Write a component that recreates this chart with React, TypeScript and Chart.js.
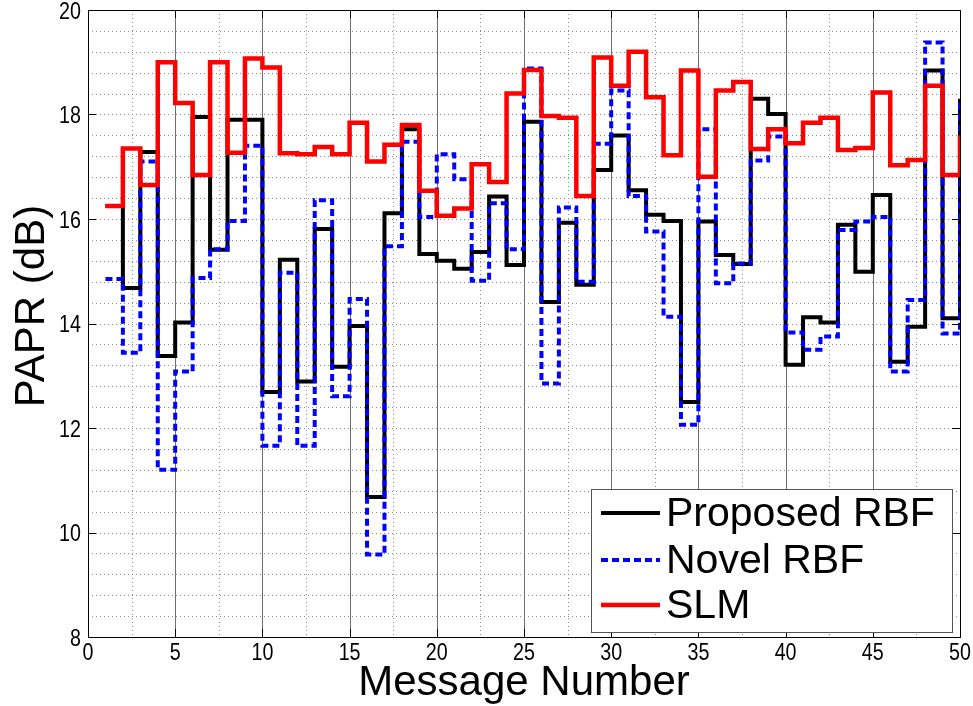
import React, { useEffect, useRef } from "react";
import { Chart, registerables } from "chart.js";

Chart.register(...registerables);

const messageNumbers = [
  1, 2, 3, 4, 5, 6, 7, 8, 9, 10, 11, 12, 13, 14, 15, 16, 17, 18, 19, 20, 21, 22, 23, 24, 25,
  26, 27, 28, 29, 30, 31, 32, 33, 34, 35, 36, 37, 38, 39, 40, 41, 42, 43, 44, 45, 46, 47, 48, 49, 50,
];

const proposedRBF = [
  16.25, 14.68, 17.28, 13.38, 14.02, 17.95, 15.41, 17.9, 17.9, 12.69,
  15.22, 12.89, 15.81, 13.17, 13.95, 10.68, 16.11, 17.72, 15.33, 15.2,
  15.05, 15.37, 16.43, 15.12, 17.86, 14.41, 15.93, 14.74, 16.94, 17.6,
  16.55, 16.08, 15.96, 12.5, 15.95, 15.31, 15.14, 18.3, 18.01, 13.21,
  14.12, 14.02, 15.89, 14.99, 16.46, 13.27, 13.94, 18.84, 14.1, 18.3,
];

const novelRBF = [
  14.85, 13.44, 17.1, 11.2, 13.08, 14.87, 15.42, 15.96, 17.4, 11.66,
  14.97, 11.66, 16.36, 12.61, 14.47, 9.58, 15.48, 17.48, 16.04, 17.24,
  16.76, 14.82, 16.3, 15.42, 18.88, 12.85, 16.22, 14.8, 17.44, 18.46,
  16.44, 15.76, 14.13, 12.06, 17.72, 14.77, 15.15, 17.12, 17.58, 13.83,
  13.5, 13.75, 15.79, 15.95, 16.04, 13.08, 14.45, 19.38, 13.81, 18.3,
];

const slm = [
  16.25, 17.35, 16.65, 19.0, 18.22, 16.84, 19.0, 17.27, 19.07, 18.9,
  17.26, 17.24, 17.38, 17.24, 17.84, 17.1, 17.42, 17.8, 16.54, 16.06,
  16.2, 17.05, 16.71, 18.4, 18.85, 17.97, 17.94, 16.44, 19.09, 18.55,
  19.2, 18.33, 17.22, 18.84, 16.81, 18.46, 18.62, 17.34, 17.72, 17.45,
  17.84, 17.94, 17.32, 17.36, 18.42, 17.03, 17.13, 18.55, 16.84, 17.6,
];

const xTicks = [0, 5, 10, 15, 20, 25, 30, 35, 40, 45, 50];
const yTicks = [8, 10, 12, 14, 16, 18, 20];
const xTitle = "Message Number";
const yTitle = "PAPR (dB)";

const toPoints = (vals: number[]) => messageNumbers.map((x, i) => ({ x, y: vals[i] }));

const FONT = "'Liberation Sans', Arial, sans-serif";

const gridPlugin = {
  id: "matlabGrid",
  beforeDatasetsDraw(chart: any) {
    const { ctx, chartArea } = chart;
    const xs = chart.scales.x;
    const ys = chart.scales.y;
    const { left, right, top, bottom } = chartArea;
    ctx.save();
    ctx.lineWidth = 1;
    ctx.strokeStyle = "#8a8a8a";
    ctx.setLineDash([1, 3]);
    for (let k = 1; k < 30; k++) {
      const py = Math.round(ys.getPixelForValue(8 + 0.4 * k)) + 0.5;
      ctx.beginPath();
      ctx.moveTo(left, py);
      ctx.lineTo(right, py);
      ctx.stroke();
    }
    for (let k = 0; k < 10; k++) {
      const px = Math.round(xs.getPixelForValue(2.5 + 5 * k)) + 0.5;
      ctx.beginPath();
      ctx.moveTo(px, top);
      ctx.lineTo(px, bottom);
      ctx.stroke();
    }
    ctx.setLineDash([]);
    ctx.strokeStyle = "#6e6e6e";
    for (let k = 1; k < 10; k++) {
      const px = Math.round(xs.getPixelForValue(5 * k)) + 0.5;
      ctx.beginPath();
      ctx.moveTo(px, top);
      ctx.lineTo(px, bottom);
      ctx.stroke();
    }
    ctx.restore();
  },
  afterDatasetsDraw(chart: any) {
    const { ctx, chartArea } = chart;
    const xs = chart.scales.x;
    const ys = chart.scales.y;
    const { left, right, top, bottom } = chartArea;
    ctx.save();
    ctx.strokeStyle = "#000";
    ctx.lineWidth = 1;
    ctx.setLineDash([]);
    const tl = 8;
    xTicks.forEach((v) => {
      const px = Math.round(xs.getPixelForValue(v)) + 0.5;
      ctx.beginPath();
      ctx.moveTo(px, bottom);
      ctx.lineTo(px, bottom - tl);
      ctx.moveTo(px, top);
      ctx.lineTo(px, top + tl);
      ctx.stroke();
    });
    yTicks.forEach((v) => {
      const py = Math.round(ys.getPixelForValue(v)) + 0.5;
      ctx.beginPath();
      ctx.moveTo(left, py);
      ctx.lineTo(left + tl, py);
      ctx.moveTo(right, py);
      ctx.lineTo(right - tl, py);
      ctx.stroke();
    });
    ctx.strokeRect(Math.round(left) + 0.5, Math.round(top) + 0.5, Math.round(right - left), Math.round(bottom - top));
    ctx.restore();
  },
};

const labelsPlugin = {
  id: "matlabLabels",
  afterDraw(chart: any) {
    const { ctx, chartArea } = chart;
    const xs = chart.scales.x;
    const ys = chart.scales.y;
    ctx.save();
    ctx.fillStyle = "#000";
    ctx.font = `24px ${FONT}`;
    const sx = 0.82;
    // x tick labels (condensed)
    ctx.textAlign = "center";
    ctx.textBaseline = "alphabetic";
    xTicks.forEach((v) => {
      const px = xs.getPixelForValue(v);
      ctx.save();
      ctx.translate(px, chartArea.bottom + 23);
      ctx.scale(sx, 1);
      ctx.fillText(String(v), 0, 0);
      ctx.restore();
    });
    // y tick labels
    ctx.textAlign = "right";
    yTicks.forEach((v) => {
      const py = ys.getPixelForValue(v);
      ctx.save();
      ctx.translate(chartArea.left - 7, py + 8.5);
      ctx.scale(sx, 1);
      ctx.fillText(String(v), 0, 0);
      ctx.restore();
    });
    // axis titles
    ctx.font = `42px ${FONT}`;
    ctx.textAlign = "center";
    ctx.textBaseline = "alphabetic";
    ctx.fillText(xTitle, (chartArea.left + chartArea.right) / 2 - 0, chartArea.bottom + 58);
    ctx.save();
    ctx.translate(44, 306);
    ctx.rotate(-Math.PI / 2);
    ctx.fillText(yTitle, 0, 0);
    ctx.restore();
    ctx.restore();
  },
};

const legendPlugin = {
  id: "insideLegend",
  afterDraw(chart: any) {
    const { ctx, chartArea } = chart;
    const w = 361;
    const h = 143;
    const x0 = chartArea.right - 8 - w;
    const y0 = chartArea.bottom - 5 - h;
    ctx.save();
    ctx.fillStyle = "#ffffff";
    ctx.fillRect(x0, y0, w, h);
    ctx.strokeStyle = "#555";
    ctx.lineWidth = 1;
    ctx.strokeRect(x0 + 0.5, y0 + 0.5, w, h);
    const rows = [24, 71, 116];
    chart.data.datasets.forEach((ds: any, i: number) => {
      const cy = y0 + rows[i];
      ctx.strokeStyle = ds.borderColor;
      ctx.lineWidth = ds.borderWidth;
      ctx.setLineDash(ds.borderDash || []);
      ctx.beginPath();
      ctx.moveTo(x0 + 10, cy);
      ctx.lineTo(x0 + 69, cy);
      ctx.stroke();
      ctx.setLineDash([]);
      ctx.fillStyle = "#000";
      ctx.font = `41px ${FONT}`;
      ctx.textBaseline = "middle";
      ctx.textAlign = "left";
      ctx.fillText(ds.label, x0 + 75, cy + 2);
    });
    ctx.restore();
  },
};

export default function App() {
  const canvasRef = useRef<HTMLCanvasElement | null>(null);

  useEffect(() => {
    document.body.style.margin = "0";
    const canvas = canvasRef.current;
    if (!canvas) return;
    const chart = new Chart(canvas, {
      type: "line",
      data: {
        datasets: [
          {
            label: "Proposed RBF",
            data: toPoints(proposedRBF),
            borderColor: "#000000",
            borderWidth: 4,
            stepped: "before",
            pointRadius: 0,
            fill: false,
            order: 2,
          },
          {
            label: "Novel RBF",
            data: toPoints(novelRBF),
            borderColor: "#0000ff",
            borderWidth: 4,
            borderDash: [7, 4],
            stepped: "before",
            pointRadius: 0,
            fill: false,
            order: 1,
          },
          {
            label: "SLM",
            data: toPoints(slm),
            borderColor: "#ff0000",
            borderWidth: 4.5,
            stepped: "before",
            pointRadius: 0,
            fill: false,
            order: 0,
          },
        ],
      },
      options: {
        animation: false,
        responsive: false,
        maintainAspectRatio: false,
        layout: { padding: { top: 10, right: 13, left: 0, bottom: 0 } },
        plugins: {
          legend: { display: false },
          tooltip: { enabled: false },
          title: { display: false },
        },
        scales: {
          x: {
            type: "linear",
            min: 0,
            max: 50,
            grid: { display: false },
            border: { display: false },
            ticks: { display: false },
            afterFit: (scale: any) => {
              scale.height = 69;
            },
          },
          y: {
            type: "linear",
            min: 8,
            max: 20,
            grid: { display: false },
            border: { display: false },
            ticks: { display: false },
            afterFit: (scale: any) => {
              scale.width = 88;
            },
          },
        },
      },
      plugins: [gridPlugin, labelsPlugin, legendPlugin],
    } as any);
    return () => chart.destroy();
  }, []);

  return (
    <div style={{ width: 973, height: 706, background: "#fff" }}>
      <canvas ref={canvasRef} width={973} height={706} style={{ display: "block", width: 973, height: 706 }} />
    </div>
  );
}
